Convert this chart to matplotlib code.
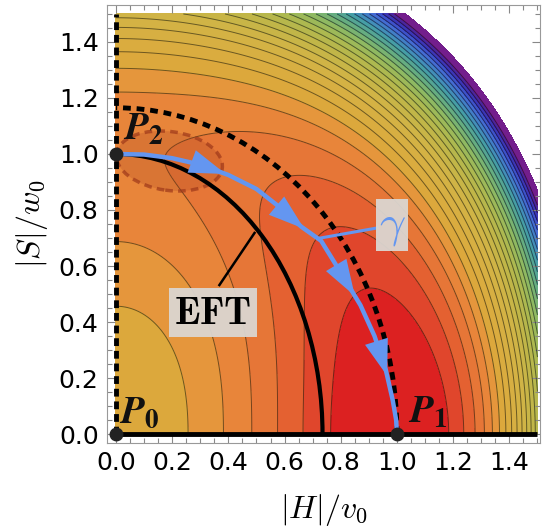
import numpy as np
import matplotlib.pyplot as plt
from matplotlib.colors import LinearSegmentedColormap
from matplotlib.patches import Arc, Ellipse, Rectangle
from matplotlib.ticker import MultipleLocator

plt.rcParams['mathtext.fontset'] = 'cm'

# potential in units h = |H|/v0, s = |S|/w0
lam_h = 1.0
lam_s = 0.385
kappa = 1.36
b_h = 0.4      # cubic term along h
b_s = 2.0      # cubic term along s
c6 = 0.034     # steepening far from the origin
c6_h = 0.1     # extra steepening along h

# contour levels of the plot
level_ref = 0.985
level_step = 0.14
v_clip = 4.49

# stationary points P0, P1, P2
pts_h = [0.0, 1.0, 0.0]
pts_s = [0.0, 0.0, 1.0]
pts_names = ['0', '1', '2']
pts_text = [(0.012, 0.04), (1.04, 0.04), (0.025, 1.05)]

# path gamma from P2 to P1
path_h = [0.0, 0.1, 0.2, 0.3, 0.4, 0.5, 0.58, 0.66, 0.73, 0.81, 0.87, 0.92, 0.96, 0.985, 0.997, 1.0]
path_s = [1.0, 0.998, 0.985, 0.962, 0.925, 0.875, 0.812, 0.74, 0.69, 0.56, 0.46, 0.35, 0.23, 0.12, 0.05, 0.0]
arrow_at = [0.39, 0.67, 0.85, 0.965]

# quarter ellipses: EFT boundary (solid) and dashed boundary
eft_axes = (0.735, 1.0)
dash_axes = (1.0, 1.165)

# shaded region around P2
blob_center = (0.19, 0.975)
blob_size = (0.38, 0.21)
blob_angle = -8

rainbow = [(0.00, (220, 33, 33)), (0.04, (225, 75, 45)), (0.075, (228, 100, 50)),
           (0.11, (230, 118, 55)), (0.145, (232, 133, 58)), (0.18, (230, 148, 60)),
           (0.22, (220, 168, 60)), (0.30, (215, 176, 66)), (0.37, (208, 180, 70)),
           (0.45, (192, 182, 72)), (0.52, (172, 185, 80)), (0.60, (140, 185, 100)),
           (0.67, (100, 172, 130)), (0.74, (70, 158, 165)), (0.80, (65, 135, 195)),
           (0.86, (68, 105, 212)), (0.90, (60, 75, 200)), (0.935, (60, 50, 180)),
           (0.965, (75, 38, 158)), (1.00, (115, 30, 140))]
blue = '#6496f0'


def potential(h, s):
    fh = 1 - (2 - 0.5 * b_h) * h**2 - b_h * h**3 + (1 + 0.5 * b_h) * h**4
    gs = 1 - (2 - 0.5 * b_s) * s**2 - b_s * s**3 + (1 + 0.5 * b_s) * s**4
    far = c6 * np.clip(h**2 + s**2 - 1, 0, None)**3 + c6_h * np.clip(h**2 - 1, 0, None)**3
    return lam_h * fh + lam_s * gs + kappa * h**2 * s**2 + far


hh, ss = np.meshgrid(np.linspace(0, 1.5, 700), np.linspace(0, 1.5, 700))
V = potential(hh, ss)

levels = level_ref + level_step * np.arange(-3, 40)
levels = levels[levels < v_clip - 1.8 * level_step]
bounds = np.concatenate([[V.min() - 1], levels, [v_clip]])
cmap = LinearSegmentedColormap.from_list(
    'rainbow_r', [(t, tuple(c / 255 for c in col)) for t, col in rainbow])
band_colors = [cmap(i / (len(bounds) - 2)) for i in range(len(bounds) - 1)]

fig = plt.figure(figsize=(5.46, 5.30), dpi=100)
ax = fig.add_axes([107 / 546, 87 / 530, 433 / 546, 438 / 530])

ax.contourf(hh, ss, V, levels=bounds, colors=band_colors)
ax.contour(hh, ss, V, levels=levels, colors='k', linewidths=0.7, alpha=0.5)

# region around P2
ax.add_patch(Ellipse(blob_center, blob_size[0], blob_size[1], angle=blob_angle,
                     facecolor=(0.65, 0.25, 0.12, 0.22), edgecolor=(0.62, 0.22, 0.1, 0.7),
                     lw=2.5, ls=(0, (2.2, 1.5)), zorder=3))

# axes lines
ax.plot([0, 1.5], [0, 0], color='k', lw=3.5, zorder=4, solid_capstyle='butt')
ax.plot([0, 0], [0, 1.5], color='k', lw=3.5, ls=(0, (1.6, 1.0)), zorder=4)

# EFT and dashed boundaries
ax.add_patch(Arc((0, 0), 2 * eft_axes[0], 2 * eft_axes[1], theta1=0, theta2=90,
                 color='k', lw=3, zorder=4))
ax.add_patch(Arc((0, 0), 2 * dash_axes[0], 2 * dash_axes[1], theta1=0, theta2=90,
                 color='k', lw=3.5, ls=(0, (1.6, 1.2)), zorder=4))

# path gamma with arrows
ax.plot(path_h, path_s, color=blue, lw=3.2, zorder=5, solid_capstyle='round')
for h0 in arrow_at:
    s0 = np.interp(h0, path_h, path_s)
    hb = h0 - 0.03
    sb = np.interp(hb, path_h, path_s)
    ax.annotate('', xy=(h0, s0), xytext=(hb, sb),
                arrowprops=dict(arrowstyle='-|>,head_length=1.0,head_width=0.33',
                                color=blue, lw=0, mutation_scale=26,
                                shrinkA=0, shrinkB=0), zorder=6)

# points
ax.plot(pts_h, pts_s, 'o', color='#222222', ms=9, clip_on=False, zorder=8)
for (tx, ty), n in zip(pts_text, pts_names):
    ax.text(tx, ty, r'$\mathbfit{P}_{\mathbf{%s}}$' % n, fontsize=28,
            math_fontfamily='stix', color='#111111', va='baseline', zorder=9)

# labels in grey boxes
box_col = (0.86, 0.84, 0.82)
ax.plot([0.368, 0.493], [0.532, 0.718], color='k', lw=1.8, zorder=6)
ax.add_patch(Rectangle((0.187, 0.345), 0.315, 0.178, facecolor=box_col, alpha=0.95,
                       edgecolor='none', zorder=6.5))
ax.text(0.344, 0.432, r'$\mathbf{EFT}$', fontsize=28, ha='center', va='center', zorder=7)
ax.plot([0.728, 0.93], [0.70, 0.736], color=blue, lw=2.2, zorder=6)
ax.add_patch(Rectangle((0.927, 0.655), 0.114, 0.185, facecolor=box_col, alpha=0.95,
                       edgecolor='none', zorder=6.5))
ax.text(0.984, 0.745, r'$\gamma$', fontsize=33, color=blue, ha='center', va='center',
        zorder=7)

ax.set_xlim(-0.032, 1.509)
ax.set_ylim(-0.032, 1.532)
for a in (ax.xaxis, ax.yaxis):
    a.set_major_locator(MultipleLocator(0.2))
    a.set_minor_locator(MultipleLocator(0.05))
    a.set_major_formatter('{x:.1f}')
ax.tick_params(which='both', direction='in', top=True, right=True, color='#888888',
               labelsize=18, width=0.8)
ax.tick_params(which='major', length=6)
ax.tick_params(which='minor', length=3.5)
ax.tick_params(axis='x', pad=6)
ax.tick_params(axis='y', pad=6)
for sp in ax.spines.values():
    sp.set_color('#999999')

ax.set_xlabel(r'$|H|/v_0$', fontsize=23, labelpad=12)
ax.set_ylabel(r'$|S|/w_0$', fontsize=23, labelpad=6)

fig.savefig('out.png', dpi=100)
